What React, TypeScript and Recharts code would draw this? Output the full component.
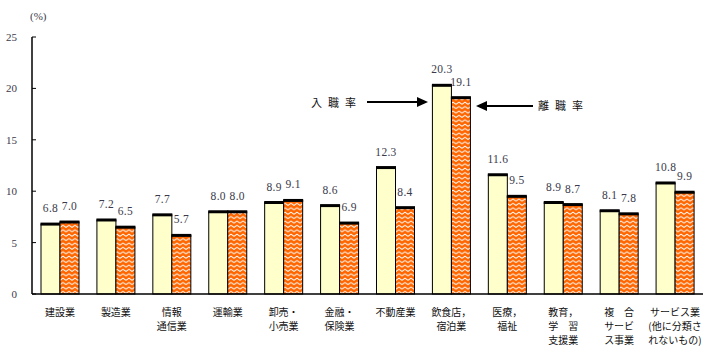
import { BarChart, Bar, XAxis, YAxis, LabelList, Customized } from "recharts"

const categories = [
  ["建設業"],
  ["製造業"],
  ["情報", "通信業"],
  ["運輸業"],
  ["卸売・", "小売業"],
  ["金融・", "保険業"],
  ["不動産業"],
  ["飲食店，", "宿泊業"],
  ["医療，", "福祉"],
  ["教育，", "学　習", "支援業"],
  ["複　合", "サービ", "ス事業"],
  ["サービス業", "(他に分類さ", "れないもの)"],
]
const entryRate = [6.8, 7.2, 7.7, 8.0, 8.9, 8.6, 12.3, 20.3, 11.6, 8.9, 8.1, 10.8]
const exitRate = [7.0, 6.5, 5.7, 8.0, 9.1, 6.9, 8.4, 19.1, 9.5, 8.7, 7.8, 9.9]
const yTicks = [0, 5, 10, 15, 20, 25]

const data = categories.map((c, i) => ({
  key: String(i),
  lines: c,
  entry: entryRate[i],
  exit: exitRate[i],
}))

const YELLOW = "#ffffcc"
const ORANGE = "#ff6600"
const TEXT = "#3a3a4a"
const JP = "'Noto Sans CJK JP', sans-serif"
const NUM = "'Liberation Serif', serif"

function BarShape(props: any) {
  const { x, y, width, height, fill } = props
  if (height <= 0) return null
  return (
    <g>
      <rect x={x} y={y} width={width} height={height} fill={fill} stroke="#000" strokeWidth={1} />
      <line x1={x - 0.5} x2={x + width + 0.5} y1={y} y2={y} stroke="#000" strokeWidth={3} />
    </g>
  )
}

function CatTick(props: any) {
  const { x, y, payload } = props
  const lines: string[] = data[payload.index]?.lines ?? []
  return (
    <text x={x} y={y} textAnchor="middle" fontFamily={JP} fontSize={10} fill="#111">
      {lines.map((l, i) => (
        <tspan key={i} x={x} dy={14}>
          {l}
        </tspan>
      ))}
    </text>
  )
}

function ValTick(props: any) {
  const { x, y, payload } = props
  return (
    <g>
      <line x1={32} x2={36} y1={y} y2={y} stroke="#000" strokeWidth={1} />
      <text x={x} y={y} dy={4} textAnchor="end" fontFamily={NUM} fontSize={11} fill={TEXT}>
        {payload.value}
      </text>
    </g>
  )
}

function Annotations() {
  return (
    <g>
      <text x={30} y={20} fontFamily={NUM} fontSize={11} fill={TEXT}>(%)</text>
      <text x={311} y={107} fontFamily={JP} fontSize={11} letterSpacing={6} fill="#111">入職率</text>
      <line x1={367} x2={418} y1={102} y2={102} stroke="#000" strokeWidth={2} />
      <polygon points="428,102 417,97 417,107" fill="#000" />
      <line x1={486} x2={533} y1={106} y2={106} stroke="#000" strokeWidth={2} />
      <polygon points="476,106 487,101 487,111" fill="#000" />
      <text x={538} y={110} fontFamily={JP} fontSize={11} letterSpacing={6} fill="#111">離職率</text>
    </g>
  )
}

const fmt = (v: any) => Number(v).toFixed(1)

export default function App() {
  return (
    <div style={{ position: "absolute", left: 0, top: 0, width: 719, height: 352, background: "#fff" }}>
      <svg width={0} height={0} style={{ position: "absolute" }}>
        <defs>
          <pattern id="wave" width={6} height={4.4} patternUnits="userSpaceOnUse">
            <rect width={6} height={4.4} fill={ORANGE} />
            <polyline points="0,3 3,1 6,3" fill="none" stroke="#fff" strokeWidth={1} />
          </pattern>
        </defs>
      </svg>
      <BarChart
        width={719}
        height={352}
        data={data}
        margin={{ top: 37, right: 16, left: 0, bottom: 0 }}
        barCategoryGap={9}
        barGap={0}
      >
        <XAxis
          dataKey="key"
          height={58}
          interval={0}
          tickLine={false}
          axisLine={{ stroke: "#000", strokeWidth: 1.5 }}
          tick={<CatTick />}
        />
        <YAxis
          width={32}
          domain={[0, 25]}
          ticks={yTicks}
          tickLine={false}
          tickMargin={9}
          axisLine={{ stroke: "#000", strokeWidth: 1.5 }}
          tick={<ValTick />}
        />
        <Bar dataKey="entry" fill={YELLOW} shape={<BarShape />} isAnimationActive={false}>
          <LabelList dataKey="entry" position="top" offset={12} fontFamily={NUM} fontSize={11.5} letterSpacing={0.3} fill={TEXT} formatter={fmt} />
        </Bar>
        <Bar dataKey="exit" fill="url(#wave)" shape={<BarShape />} isAnimationActive={false}>
          <LabelList dataKey="exit" position="top" offset={12} fontFamily={NUM} fontSize={11.5} letterSpacing={0.3} fill={TEXT} formatter={fmt} />
        </Bar>
        <Customized component={<Annotations />} />
      </BarChart>
    </div>
  )
}
